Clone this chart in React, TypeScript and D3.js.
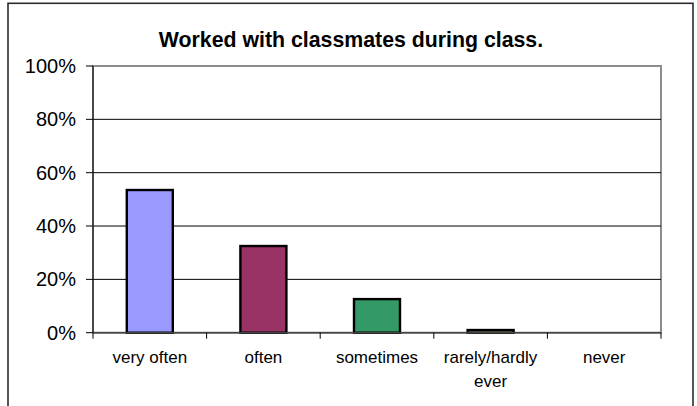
import React from "react";
import * as d3 from "d3";

const title = "Worked with classmates during class.";
const categories = ["very often", "often", "sometimes", "rarely/hardly ever", "never"];
const categoryLabelLines = [["very often"], ["often"], ["sometimes"], ["rarely/hardly", "ever"], ["never"]];
const values = [0.535, 0.325, 0.126, 0.01, 0];
const barColors = ["#9999FF", "#993366", "#339966", "#FFFFCC", "#FFFFFF"];
const yTicks = [0, 0.2, 0.4, 0.6, 0.8, 1];
const yTickLabels = ["0%", "20%", "40%", "60%", "80%", "100%"];

const W = 697;
const H = 406;
const left = 93;
const right = 661;
const top = 66;
const bottom = 332.7;

export default function App() {
  const x = d3
    .scaleBand<string>()
    .domain(categories)
    .range([left, right])
    .paddingInner(0.595)
    .paddingOuter(0.2975);
  const y = d3.scaleLinear().domain([0, 1]).range([bottom, top]);
  const step = x.step();
  const boundaries = d3.range(categories.length + 1).map((i) => left + i * step);
  const font = "'Liberation Sans', Arial, sans-serif";

  return (
    <svg
      width={W}
      height={H}
      style={{ position: "absolute", left: 0, top: 0, background: "#fff" }}
      fontFamily={font}
    >
      <rect x={0} y={0} width={W} height={H} fill="#fff" />
      {/* outer chart border */}
      <rect x={8} y={3.3} width={685} height={H + 10} fill="none" stroke="#2b2b2b" strokeWidth={1.6} />
      <text x={351} y={47.3} textAnchor="middle" fontSize={21.3} fontWeight="bold" fill="#000">
        {title}
      </text>
      {/* plot area */}
      <rect x={left} y={top} width={right - left} height={bottom - top} fill="#fff" stroke="#8c8c8c" strokeWidth={2} />
      {yTicks
        .filter((t) => t > 0 && t < 1)
        .map((t) => (
          <line key={t} x1={left} x2={right} y1={y(t)} y2={y(t)} stroke="#000" strokeWidth={1} />
        ))}
      {categories.map((c, i) =>
        values[i] > 0 ? (
          <rect
            key={c}
            x={x(c)}
            y={y(values[i])}
            width={x.bandwidth()}
            height={y(0) - y(values[i])}
            fill={barColors[i]}
            stroke="#000"
            strokeWidth={2.4}
          />
        ) : null
      )}
      {/* axes */}
      <line x1={left} x2={left} y1={top} y2={bottom} stroke="#333" strokeWidth={1.5} />
      <line x1={left} x2={right} y1={bottom} y2={bottom} stroke="#444" strokeWidth={1.5} />
      {yTicks.map((t, i) => (
        <g key={t}>
          <line x1={86} x2={left} y1={y(t)} y2={y(t)} stroke="#000" strokeWidth={1} />
          <text x={76} y={y(t)} dy="0.35em" textAnchor="end" fontSize={20} fill="#000">
            {yTickLabels[i]}
          </text>
        </g>
      ))}
      {boundaries.map((b, i) => (
        <line key={i} x1={b} x2={b} y1={bottom} y2={bottom + 6} stroke="#000" strokeWidth={1} />
      ))}
      {categories.map((c, i) => (
        <text key={c} textAnchor="middle" fontSize={17} fill="#000">
          {categoryLabelLines[i].map((line, j) => (
            <tspan key={j} x={(x(c) as number) + x.bandwidth() / 2} y={363 + j * 23.5}>
              {line}
            </tspan>
          ))}
        </text>
      ))}
    </svg>
  );
}
